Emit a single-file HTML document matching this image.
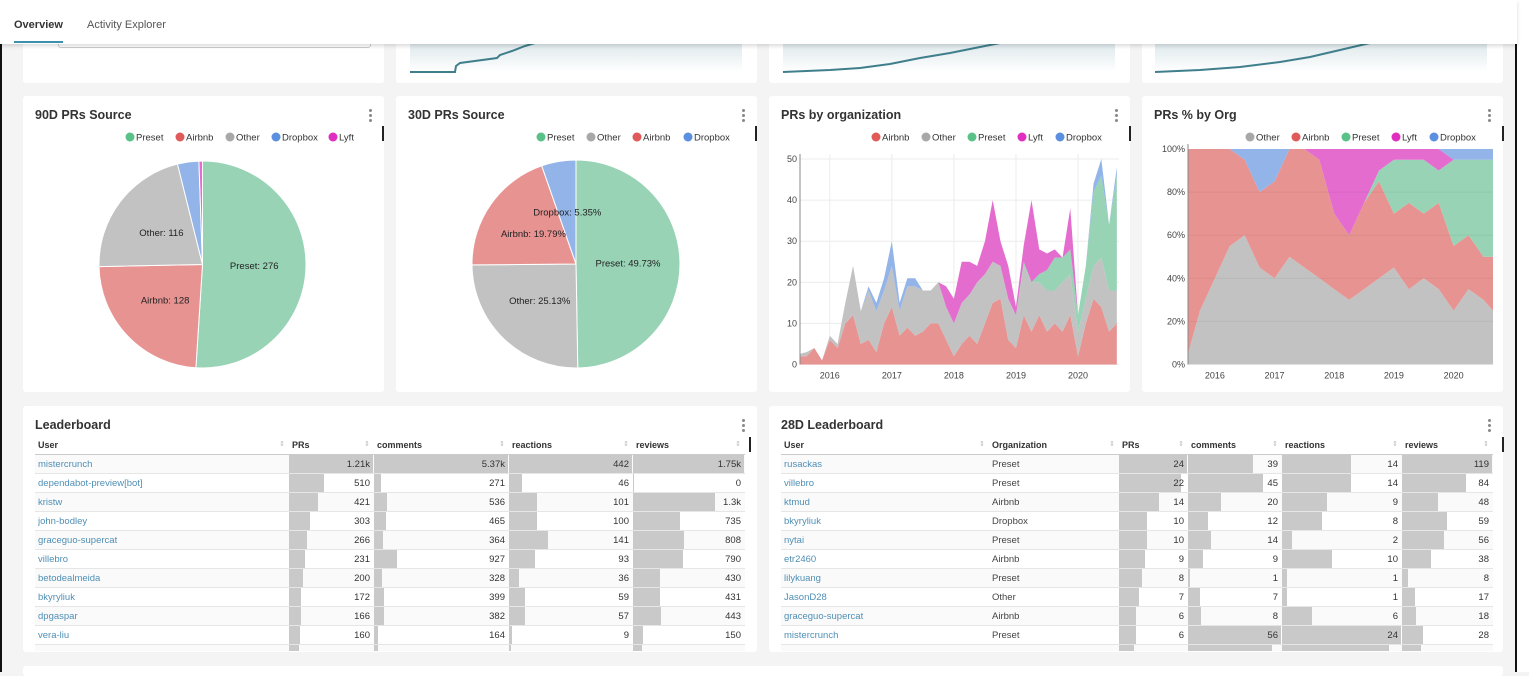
<!DOCTYPE html>
<html><head><meta charset="utf-8">
<style>
*{box-sizing:border-box;margin:0;padding:0}
body{width:1529px;height:672px;overflow:hidden;background:#f4f4f4;font-family:"Liberation Sans",sans-serif;position:relative;color:#333}
.card{position:absolute;background:#fff;border-radius:3px}
.title{position:absolute;font-size:12.5px;font-weight:bold;color:#333}
.kebab{position:absolute;width:3px;height:13px}
.kebab i{display:block;width:3px;height:3px;border-radius:50%;background:#888;margin-bottom:2px}
.bar-mark{position:absolute;width:2px;height:15px;background:#222}
.abs{position:absolute}
svg{position:absolute;left:0;top:0}
.cell{position:absolute;font-size:9.5px;line-height:19px;white-space:nowrap;overflow:hidden}
</style></head><body>
<div class="abs" style="left:0;top:0;width:2px;height:672px;background:#111"></div>
<div class="abs" style="left:1515px;top:0;width:2px;height:672px;background:#111"></div>
<div class="abs" style="left:1517px;top:0;width:12px;height:672px;background:#fff"></div>

<div class="card" style="left:23px;top:30px;width:361px;height:53px"></div>
<div class="abs" style="left:58px;top:30px;width:313px;height:18px;border:1px solid #ccc;border-radius:3px"></div>
<div class="card" style="left:396px;top:30px;width:361px;height:53px"></div>
<div class="card" style="left:769px;top:30px;width:361px;height:53px"></div>
<div class="card" style="left:1142px;top:30px;width:361px;height:53px"></div>
<svg width="1529" height="672">
<defs><linearGradient id="sg" x1="0" y1="0" x2="0" y2="1"><stop offset="0" stop-color="#dfe9ec"/><stop offset="1" stop-color="#fff"/></linearGradient></defs>
<rect x="410" y="44" width="332" height="28" fill="url(#sg)"/>
<rect x="783" y="44" width="332" height="28" fill="url(#sg)"/>
<rect x="1155" y="44" width="332" height="28" fill="url(#sg)"/>
<path d="M410,72 L455,72 L456,66 L460,63 L497,58 L500,55 L512,51 L525,46 L535,43" fill="none" stroke="#3f7f8c" stroke-width="2"/>
<path d="M783,72 L830,70 L860,68 L890,64 L920,58 L950,53 L975,48 L1000,43" fill="none" stroke="#3f7f8c" stroke-width="2"/>
<path d="M1155,72 L1200,70 L1240,67 L1280,62 L1310,57 L1340,50 L1370,43" fill="none" stroke="#3f7f8c" stroke-width="2"/>
</svg>

<div class="abs" style="left:0;top:0;width:1517px;height:44px;background:#fff;box-shadow:0 2px 4px rgba(0,0,0,0.15)"></div>
<div class="abs" style="left:14px;top:19px;font-size:11px;font-weight:bold;color:#333">Overview</div>
<div class="abs" style="left:14px;top:41px;width:49px;height:2px;background:#3d8fae"></div>
<div class="abs" style="left:87px;top:19px;font-size:11px;color:#555">Activity Explorer</div>

<div class="card" style="left:23px;top:96px;width:361px;height:296px"></div>
<div class="card" style="left:396px;top:96px;width:361px;height:296px"></div>
<div class="card" style="left:769px;top:96px;width:361px;height:296px"></div>
<div class="card" style="left:1142px;top:96px;width:361px;height:296px"></div>
<div class="title" style="left:35px;top:108px">90D PRs Source</div>
<div class="title" style="left:408px;top:108px">30D PRs Source</div>
<div class="title" style="left:781px;top:108px">PRs by organization</div>
<div class="title" style="left:1154px;top:108px">PRs % by Org</div>
<div class="kebab" style="left:369px;top:109px"><i></i><i></i><i></i></div>
<div class="kebab" style="left:742px;top:109px"><i></i><i></i><i></i></div>
<div class="kebab" style="left:1115px;top:109px"><i></i><i></i><i></i></div>
<div class="kebab" style="left:1488px;top:109px"><i></i><i></i><i></i></div>
<div class="bar-mark" style="left:382px;top:126px"></div>
<div class="bar-mark" style="left:755px;top:126px"></div>
<div class="bar-mark" style="left:1129px;top:126px"></div>
<div class="bar-mark" style="left:1502px;top:126px"></div>

<div class="card" style="left:23px;top:406px;width:734px;height:246px"></div>
<div class="card" style="left:769px;top:406px;width:734px;height:246px"></div>
<div class="card" style="left:23px;top:666px;width:1480px;height:10px"></div>
<div class="title" style="left:35px;top:418px">Leaderboard</div>
<div class="title" style="left:781px;top:418px">28D Leaderboard</div>
<div class="kebab" style="left:742px;top:419px"><i></i><i></i><i></i></div>
<div class="kebab" style="left:1488px;top:419px"><i></i><i></i><i></i></div>
<div class="bar-mark" style="left:749px;top:437px"></div>
<div class="bar-mark" style="left:1502px;top:437px"></div>

<svg id="charts" width="1529" height="672"></svg>
<div id="tables"></div>

<script>
const pie90Labels = ["Preset","Airbnb","Other","Dropbox","Lyft"];
const pie90Values = [276,128,116,18,3];
const pie30Labels = ["Preset","Other","Airbnb","Dropbox"];
const pie30Values = [49.73,25.13,19.79,5.35];
const orgTimes = [2015.5,2015.625,2015.75,2015.875,2016,2016.125,2016.25,2016.375,2016.5,2016.625,2016.75,2016.875,2017,2017.125,2017.25,2017.375,2017.5,2017.625,2017.75,2017.875,2018,2018.125,2018.25,2018.375,2018.5,2018.625,2018.75,2018.875,2019,2019.125,2019.25,2019.375,2019.5,2019.625,2019.75,2019.875,2020,2020.125,2020.25,2020.375,2020.5,2020.625];
const orgAirbnb  = [2,2,4,1,6,4,10,12,5,6,3,10,14,7,9,7,8,10,10,6,2,5,7,5,10,15,16,6,4,12,8,12,8,10,8,12,2,10,16,14,8,10];
const orgOther   = [0.5,1,0,0,1,1,5,12,8,12,10,8,10,6,10,12,10,8,10,8,8,10,10,15,12,10,8,10,8,12,12,8,10,8,12,10,6,6,8,12,10,8];
const orgPreset  = [0,0,0,0,0,0,0,0,0,0,0,0,0,0,0,0,0,0,0,0,0,0,0,0,0,0,0,0,0,1,0,2,5,8,6,6,4,8,18,20,16,28];
const orgLyft    = [0,0,0,0,0,0,0,0,0,0,0,0,0,0,0,0,0,0,0,5,6,10,8,4,8,15,6,8,2,4,20,6,4,2,0,10,0,0,0,0,0,0];
const orgDropbox = [0,0,0,0,0,0,0,0,0,1,2,3,6,2,2,2,0,0,0,0,0,0,0,0,0,0,0,0,0,0,0,0,0,0,0,0,0,0,2,4,0,2];
const orgYTicks = [0,10,20,30,40,50];
const orgXTicks = [2016,2017,2018,2019,2020];
const pctTimes = [2015.5,2015.75,2016,2016.25,2016.5,2016.75,2017,2017.25,2017.5,2017.75,2018,2018.25,2018.5,2018.75,2019,2019.25,2019.5,2019.75,2020,2020.25,2020.5,2020.66];
const pctOther   = [0,25,40,55,60,45,40,50,45,40,35,30,35,40,45,35,40,35,25,35,30,25];
const pctAirbnb  = [100,75,60,45,35,35,45,50,55,55,35,30,40,45,25,40,30,40,30,25,20,25];
const pctPreset  = [0,0,0,0,0,0,0,0,0,0,0,0,0,5,25,20,25,15,40,35,45,45];
const pctLyft    = [0,0,0,0,0,0,0,0,0,5,30,40,25,10,5,5,5,10,0,0,0,0];
const pctDropbox = [0,0,0,0,5,20,15,0,0,0,0,0,0,0,0,0,0,0,5,5,5,5];
const pctYTicks = [0,20,40,60,80,100];
const pctXTicks = [2016,2017,2018,2019,2020];

const NS="http://www.w3.org/2000/svg";
const svg=document.getElementById('charts');
function mk(tag,attrs,parent){const e=document.createElementNS(NS,tag);for(const k in attrs)e.setAttribute(k,attrs[k]);(parent||svg).appendChild(e);return e;}
const fillC={Preset:"#98d3b6",Airbnb:"#e79391",Other:"#c2c2c2",Dropbox:"#92b4e8",Lyft:"#e46ccf"};
const dotC={Preset:"#5ac189",Airbnb:"#e05a5a",Other:"#a8a8a8",Dropbox:"#5b8fe0",Lyft:"#e02fc0"};

function legend(names,xs,y){
  names.forEach((n,i)=>{
    const c=mk('circle',{cx:xs[i],cy:y,r:4.5,fill:dotC[n]});
    
    
    const t=mk('text',{x:xs[i]+6,y:y+3.5,'font-size':'9.5','fill':'#333'});
    t.textContent=n;
    
    
  });
}
function pie(labels,values,cx,cy,r,fmt,name){
  const total=values.reduce((a,b)=>a+b,0);let a0=0;
  labels.forEach((l,i)=>{
    const a1=a0+values[i]/total*2*Math.PI;
    const x0=cx+r*Math.sin(a0),y0=cy-r*Math.cos(a0),x1=cx+r*Math.sin(a1),y1=cy-r*Math.cos(a1);
    const large=(a1-a0)>Math.PI?1:0;
    const p=mk('path',{d:`M${cx},${cy}L${x0},${y0}A${r},${r} 0 ${large} 1 ${x1},${y1}Z`,fill:fillC[l],stroke:'#fff','stroke-width':1});
    
    
    a0=a1;
  });
  a0=0;
  labels.forEach((l,i)=>{
    const a1=a0+values[i]/total*2*Math.PI,m=(a0+a1)/2;a0=a1;
    if(values[i]/total<0.04)return;
    const t=mk('text',{x:cx+0.5*r*Math.sin(m),y:cy-0.5*r*Math.cos(m)+3,'font-size':'9.5','text-anchor':'middle',fill:'#222'});
    t.textContent=l+': '+fmt(values[i]);
    
    
  });
}
legend(pie90Labels,[130,180,230,276,333],137);
pie(pie90Labels,pie90Values,202.5,264.5,103.5,v=>v,'pie-90d');
legend(pie30Labels,[541,591,637,688],137);
pie(pie30Labels,pie30Values,576,264,104,v=>v.toFixed(2)+'%','pie-30d');

function area(times,series,names,xr,yr,x0,x1,y0,y1,yTicks,xTicks,yFmt,name,grid){
  const sx=t=>x0+(t-xr[0])/(xr[1]-xr[0])*(x1-x0);
  const sy=v=>y0-(v-yr[0])/(yr[1]-yr[0])*(y0-y1);
  const cp=mk('clipPath',{id:name+'-clip'});mk('rect',{x:x0,y:y1-5,width:x1-x0,height:y0-y1+5},cp);
  if(grid){
    yTicks.forEach(v=>{const l=mk('line',{x1:x0,x2:x1,y1:sy(v),y2:sy(v),stroke:'#ececec'});});
    xTicks.forEach(v=>{const l=mk('line',{x1:sx(v),x2:sx(v),y1:y1-5,y2:y0,stroke:'#ececec'});});
  }
  const g=mk('g',{'clip-path':`url(#${name}-clip)`});
  const cum=times.map(()=>0);
  series.forEach((s,k)=>{
    const lo=cum.slice();s.forEach((v,i)=>cum[i]+=v);
    let d='M'+times.map((t,i)=>sx(t)+','+sy(cum[i])).join('L');
    for(let i=times.length-1;i>=0;i--)d+='L'+sx(times[i])+','+sy(lo[i]);
    const p=mk('path',{d:d+'Z',fill:fillC[names[k]]},g);
    
    
  });
  if(!grid){
    yTicks.forEach(v=>{if(v===0||v===100)return;const l=mk('line',{x1:x0,x2:x1,y1:sy(v),y2:sy(v),stroke:'rgba(0,0,0,0.05)'});});
  }
  const ax=mk('line',{x1:x0,x2:x0,y1:y1-5,y2:y0,stroke:'#888'});
  
  yTicks.forEach(v=>{const t=mk('text',{x:x0-3,y:sy(v)+3,'font-size':'9','text-anchor':'end',fill:'#444'});t.textContent=yFmt(v);});
  xTicks.forEach(v=>{const t=mk('text',{x:sx(v),y:y0+14,'font-size':'9','text-anchor':'middle',fill:'#444'});t.textContent=v;});
}
legend(["Airbnb","Other","Preset","Lyft","Dropbox"],[876,926,972,1022,1060],137);
area(orgTimes,[orgAirbnb,orgOther,orgPreset,orgLyft,orgDropbox],["Airbnb","Other","Preset","Lyft","Dropbox"],[2015.52,2020.66],[0,50],800,1119,364.5,159,orgYTicks,orgXTicks,v=>v,'org',true);
legend(["Other","Airbnb","Preset","Lyft","Dropbox"],[1250,1296,1346,1396,1434],137);
area(pctTimes,[pctOther,pctAirbnb,pctPreset,pctLyft,pctDropbox],["Other","Airbnb","Preset","Lyft","Dropbox"],[2015.55,2020.66],[0,100],1188,1493,364.5,149,pctYTicks,pctXTicks,v=>v+'%','pct',false);

const lbUsers=["mistercrunch","dependabot-preview[bot]","kristw","john-bodley","graceguo-supercat","villebro","betodealmeida","bkyryliuk","dpgaspar","vera-liu"];
const lbPRs=[1210,510,421,303,266,231,200,172,166,160];
const lbComments=[5370,271,536,465,364,927,328,399,382,164];
const lbReactions=[442,46,101,100,141,93,36,59,57,9];
const lbReviews=[1750,0,1300,735,808,790,430,431,443,150];
const d28Users=["rusackas","villebro","ktmud","bkyryliuk","nytai","etr2460","lilykuang","JasonD28","graceguo-supercat","mistercrunch"];
const d28Orgs=["Preset","Preset","Airbnb","Dropbox","Preset","Airbnb","Preset","Other","Airbnb","Preset"];
const d28PRs=[24,22,14,10,10,9,8,7,6,6];
const d28Comments=[39,45,20,12,14,9,1,7,8,56];
const d28Reactions=[14,14,9,8,2,10,1,1,6,24];
const d28Reviews=[119,84,48,59,56,38,8,17,18,28];

const host=document.getElementById('tables');
function fmtNum(v){if(v>=1000){return (v/1000).toFixed(2).replace(/0+$/,'').replace(/\.$/,'')+'k';}return String(v);}
function div(style,text,name,inter){const d=document.createElement('div');d.className='cell';d.style.cssText=style;if(text!==undefined)d.textContent=text;
  
  
  host.appendChild(d);return d;}
function table(name,left,right,cols){
  const top=437,rh=19,n=cols[0].data.length;
  cols.forEach(c=>{
    div(`left:${c.x+3}px;top:${top}px;width:${c.w-14}px;font-weight:bold;color:#333;font-size:9px;line-height:16px`,c.label,name+'-header-'+c.label.toLowerCase(),true);
    div(`left:${c.x+c.w-10}px;top:${top}px;font-size:7px;color:#bbb;line-height:16px`,'⇕',name+'-sort-icon',true);
  });
  div(`left:${left}px;top:${top+17}px;width:${right-left}px;height:1px;background:#ccc`,undefined,name+'-header-rule',false);
  for(let r=0;r<=n;r++){
    const y=top+18+r*rh;
    const hh=r<n?rh:6;
    div(`left:${left}px;top:${y}px;width:${right-left}px;height:${hh}px;background:${r%2?'#fff':'#fafafa'};${r<n?'border-bottom:1px solid #e6e6e6':''}`,undefined,name+'-row',false);
  }
  cols.forEach(c=>{
    if(c.bar){
      const mx=Math.max(...c.data);
      for(let r=0;r<=n;r++){
        const v=r<n?c.data[r]:c.data[n-1]*0.9;
        const y=top+18+r*rh;
        const hh=r<n?rh-1:6;
        div(`left:${c.x}px;top:${y}px;width:${Math.max(1,v/mx*(c.w-1))}px;height:${hh}px;background:#c9c9c9`,undefined,name+'-bar-'+c.label.toLowerCase(),false);
      }
    }
  });
  cols.forEach(c=>{
    c.data.forEach((v,r)=>{
      const y=top+18+r*rh;
      if(c.bar) div(`left:${c.x}px;top:${y}px;width:${c.w-4}px;text-align:right;color:#333`,fmtNum(v),name+'-cell-'+c.label.toLowerCase(),false);
      else div(`left:${c.x+3}px;top:${y}px;width:${c.w-6}px;color:${c.link?'#4f8fb5':'#444'}`,v,name+'-cell-'+c.label.toLowerCase(),c.link);
    });
  });
}
table('leaderboard',35,745,[
  {label:'User',x:35,w:254,data:lbUsers,link:true},
  {label:'PRs',x:289,w:85,data:lbPRs,bar:true},
  {label:'comments',x:374,w:135,data:lbComments,bar:true},
  {label:'reactions',x:509,w:124,data:lbReactions,bar:true},
  {label:'reviews',x:633,w:112,data:lbReviews,bar:true}
]);
table('leaderboard-28d',781,1493,[
  {label:'User',x:781,w:208,data:d28Users,link:true},
  {label:'Organization',x:989,w:130,data:d28Orgs},
  {label:'PRs',x:1119,w:69,data:d28PRs,bar:true},
  {label:'comments',x:1188,w:94,data:d28Comments,bar:true},
  {label:'reactions',x:1282,w:120,data:d28Reactions,bar:true},
  {label:'reviews',x:1402,w:91,data:d28Reviews,bar:true}
]);
</script>
</body></html>
